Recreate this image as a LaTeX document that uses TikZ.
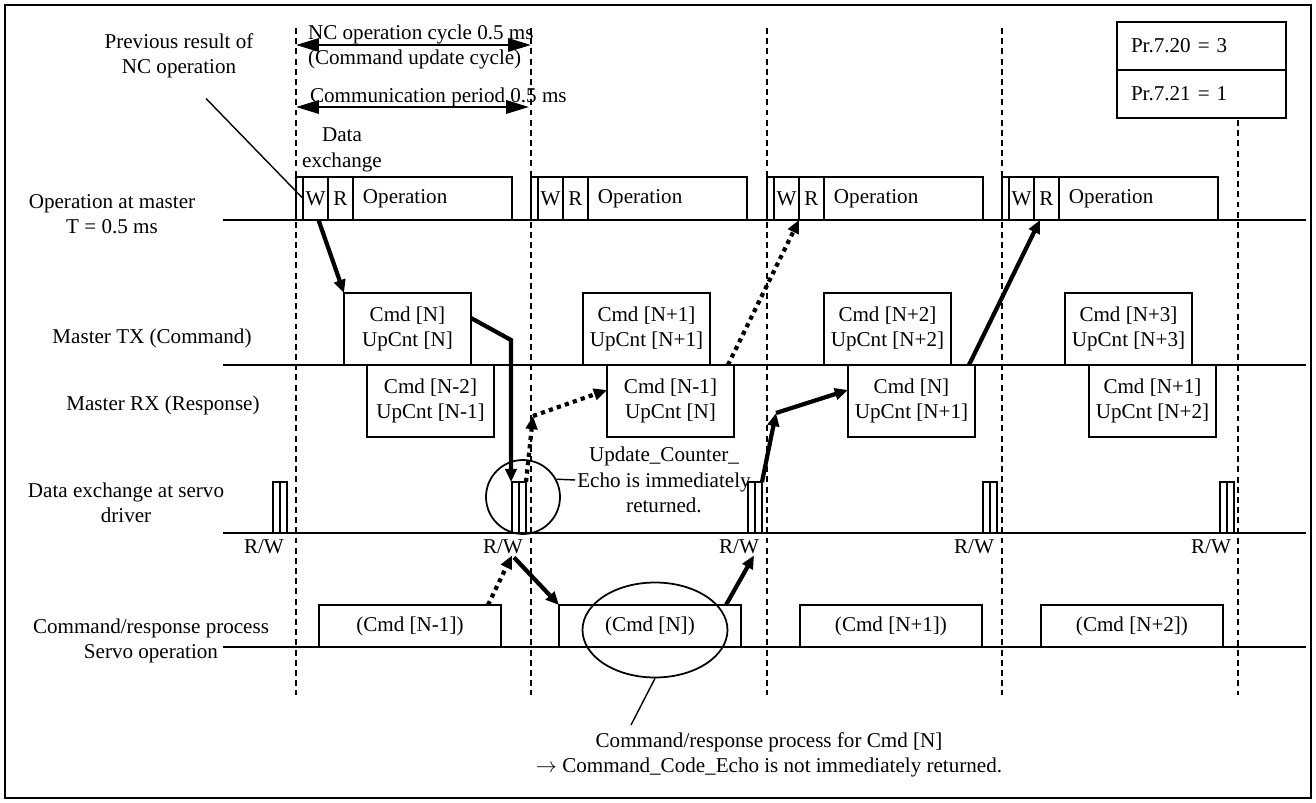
\documentclass[tikz,border=0pt]{standalone}
\usepackage{fontspec}
\setmainfont{Liberation Serif}
\usetikzlibrary{positioning,calc,arrows.meta,shapes.geometric}

\begin{document}
\begin{tikzpicture}[x=0.02cm, y=-0.02cm, font=\fontsize{12}{14.5}\selectfont,
  box/.style={draw, line width=1pt, inner sep=0pt, outer sep=0pt},
  stripcell/.style={box, minimum width=0.14cm, minimum height=0.86cm},
  wrcell/.style={box, minimum width=0.5cm, minimum height=0.86cm},
  opcell/.style={box, minimum height=0.86cm, text width=2.78cm, inner xsep=0.2cm, align=left},
  cmdbox/.style={box, minimum width=2.54cm, minimum height=1.44cm, align=center},
  srvbox/.style={box, minimum width=3.64cm, minimum height=0.84cm},
  exbar/.style={box, minimum width=0.28cm, minimum height=1.02cm, anchor=south east,
    path picture={\draw[line width=1pt] (path picture bounding box.north) -- (path picture bounding box.south);}},
  prbox/.style={box, minimum height=0.96cm, text width=2.82cm, inner xsep=0.28cm, align=left},
  lbl/.style={align=center, inner sep=1pt},
  rwlbl/.style={inner sep=1pt, anchor=north east},
  timeline/.style={line width=1pt},
  cyclegrid/.style={line width=0.9pt, dash pattern=on 3.4pt off 2.4pt},
  spanarrow/.style={line width=1.5pt, {Triangle[length=13pt,width=7.5pt]}-{Triangle[length=13pt,width=7.5pt]}},
  cmdarrow/.style={line width=2.4pt, -{Triangle[length=7.5pt,width=6.5pt]}},
  echoarrow/.style={cmdarrow, dash pattern=on 2.4pt off 2.4pt},
  pointer/.style={line width=0.8pt}]

\useasboundingbox (0,0) rectangle (1316,803);
\draw[line width=1pt] (5,5) rectangle (1311,798);

% cycle boundaries
\draw[cyclegrid] (296,28) -- (296,695);
\draw[cyclegrid] (531,28) -- (531,695);
\draw[cyclegrid] (767,28) -- (767,695);
\draw[cyclegrid] (1002,28) -- (1002,695);
\draw[cyclegrid] (1238,120) -- (1238,695);

% time lines
\draw[timeline] (223,220) -- (1306,220);
\draw[timeline] (223,365) -- (1306,365);
\draw[timeline] (223,533) -- (1306,533);
\draw[timeline] (223,647) -- (1306,647);

% row labels
\node[lbl] (opmaster) at (112,214) {Operation at master\\T = 0.5 ms};
\node[lbl] (mastertx) at (152,338) {Master TX (Command)};
\node[lbl] (masterrx) at (163,405) {Master RX (Response)};
\node[lbl] (servoex) at (126,503) {Data exchange at servo\\driver};
\node[lbl] (servoop) at (151,641) {Command/response process\\Servo operation};

% period arrows
\coordinate (nc1) at (296,45);
\coordinate (nc2) at (531,45);
\coordinate (cp1) at (296,107);
\coordinate (cp2) at (529,107);
\draw[spanarrow] (nc1) -- (nc2);
\draw[spanarrow] (cp1) -- (cp2);
\node[lbl, align=left, anchor=west] (nccycle) at (306,47) {NC operation cycle 0.5 ms\\(Command update cycle)};
\node[lbl, anchor=west] (commper) at (308,97) {Communication period 0.5 ms};
\node[lbl] (dataex) at (342,150) {Data\\exchange};
\node[lbl] (prevres) at (179,56) {Previous result of\\NC operation};

% parameter box
\node[prbox, anchor=north west] (pr1) at (1117,22) {Pr.7.20 = 3};
\node[prbox, below=0pt of pr1] (pr2) {Pr.7.21 = 1};

% operation at master
\node[stripcell, anchor=south west] (s1) at (296,220) {};
\node[wrcell, right=0pt of s1] (w1) {W};
\node[wrcell, right=0pt of w1] (r1) {R};
\node[opcell, right=0pt of r1] (op1) {Operation};
\node[stripcell, anchor=south west] (s2) at (531,220) {};
\node[wrcell, right=0pt of s2] (w2) {W};
\node[wrcell, right=0pt of w2] (r2) {R};
\node[opcell, right=0pt of r2] (op2) {Operation};
\node[stripcell, anchor=south west] (s3) at (767,220) {};
\node[wrcell, right=0pt of s3] (w3) {W};
\node[wrcell, right=0pt of w3] (r3) {R};
\node[opcell, right=0pt of r3] (op3) {Operation};
\node[stripcell, anchor=south west] (s4) at (1002,220) {};
\node[wrcell, right=0pt of s4] (w4) {W};
\node[wrcell, right=0pt of w4] (r4) {R};
\node[opcell, right=0pt of r4] (op4) {Operation};

% master TX / RX
\node[cmdbox, anchor=south west] (tx1) at (344,365) {Cmd [N]\\UpCnt [N]};
\node[cmdbox, anchor=south west] (tx2) at (583,365) {Cmd [N+1]\\UpCnt [N+1]};
\node[cmdbox, anchor=south west] (tx3) at (824,365) {Cmd [N+2]\\UpCnt [N+2]};
\node[cmdbox, anchor=south west] (tx4) at (1065,365) {Cmd [N+3]\\UpCnt [N+3]};
\node[cmdbox, anchor=north west] (rx1) at (367,365) {Cmd [N-2]\\UpCnt [N-1]};
\node[cmdbox, anchor=north west] (rx2) at (607,365) {Cmd [N-1]\\UpCnt [N]};
\node[cmdbox, anchor=north west] (rx3) at (848,365) {Cmd [N]\\UpCnt [N+1]};
\node[cmdbox, anchor=north west] (rx4) at (1089,365) {Cmd [N+1]\\UpCnt [N+2]};

% data exchange at servo
\node[exbar] (bar1) at (287,533) {};
\node[exbar] (bar2) at (526,533) {};
\node[exbar] (bar3) at (762,533) {};
\node[exbar] (bar4) at (997,533) {};
\node[exbar] (bar5) at (1234,533) {};
\node[rwlbl] (rw1) at ($(bar1.south east)+(-1,4)$) {R/W};
\node[rwlbl] (rw2) at ($(bar2.south east)+(-1,4)$) {R/W};
\node[rwlbl] (rw3) at ($(bar3.south east)+(-1,4)$) {R/W};
\node[rwlbl] (rw4) at ($(bar4.south east)+(-1,4)$) {R/W};
\node[rwlbl] (rw5) at ($(bar5.south east)+(-1,4)$) {R/W};

% servo operation
\node[srvbox, anchor=south west] (srv1) at (319,647) {(Cmd [N-1])};
\node[srvbox, anchor=south west] (srv2) at (559,647) {(Cmd [N])};
\node[srvbox, anchor=south west] (srv3) at (800,647) {(Cmd [N+1])};
\node[srvbox, anchor=south west] (srv4) at (1041,647) {(Cmd [N+2])};

% notes
\node[draw, circle, line width=1pt, minimum size=1.48cm, inner sep=0pt] (echoring) at (523,497) {};
\node[lbl] (echotxt) at (664,480) {Update\_Counter\_\\Echo is immediately\\returned.};
\node[draw, ellipse, line width=1pt, minimum width=2.9cm, minimum height=1.9cm, inner sep=0pt] (cmdring) at (655,630) {};
\node[lbl] (cmdnote) at (769,755) {Command/response process for Cmd [N]\\$\rightarrow$ Command\_Code\_Echo is not immediately returned.};
\coordinate (notetip) at (631,725);
\draw[pointer] ($(prevres.south)+(27,18)$) -- (w1.west);
\draw[pointer] (echoring.28) -- (echotxt.west);
\draw[pointer] (cmdring.south) -- (notetip);

% command and echo flow
\coordinate (k1) at (511,340);
\coordinate (k2) at (533,416);
\coordinate (k3) at (776,413);
\draw[cmdarrow] ($(w1.south)+(3,0)$) -- (tx1.north west);
\draw[cmdarrow] ($(tx1.east)+(0,-11)$) -- (k1) -- (k1 |- bar2.north);
\draw[echoarrow] (bar2.north east) -- (k2);
\draw[echoarrow] (k2) -- ($(rx2.west)+(0,-11)$);
\draw[echoarrow] ($(rx2.north east)+(-6,0)$) -- (r3.south west);
\draw[cmdarrow] (bar3.north east) -- (k3);
\draw[cmdarrow] (k3) -- ($(rx3.west)+(0,-11)$);
\draw[cmdarrow] ($(rx3.north east)+(-6,0)$) -- ($(r4.south west)+(6,0)$);
\draw[echoarrow] ($(srv1.north east)+(-13,0)$) -- ($(rw2.south east)+(-13,0)$);
\draw[cmdarrow] ($(rw2.south east)+(-11,2)$) -- (srv2.north west);
\draw[cmdarrow] ($(srv2.north east)+(-15,0)$) -- ($(rw3.south east)+(-7,0)$);
\end{tikzpicture}
\end{document}
